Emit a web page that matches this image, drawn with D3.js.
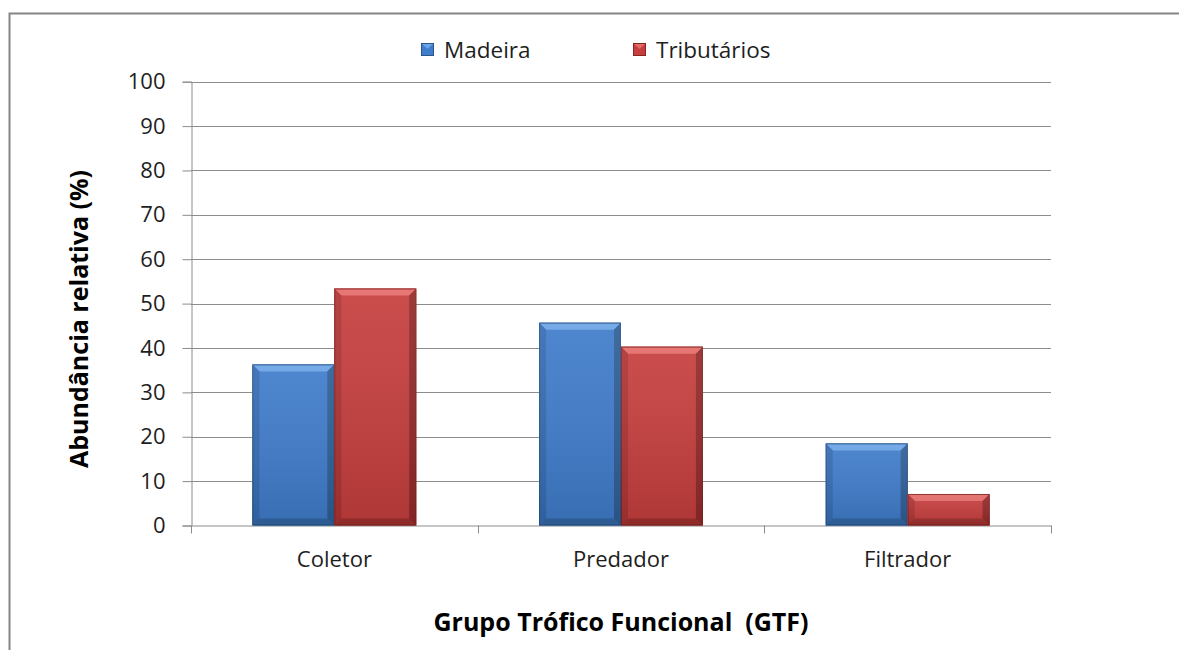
<!DOCTYPE html>
<html>
<head>
<meta charset="utf-8">
<script src="https://cdn.jsdelivr.net/npm/d3@7"></script>
<style>
  body { margin: 0; background: #fff; }
  svg text { font-family: "Open Sans", "Noto Sans", sans-serif; fill: #1e1e1e; white-space: pre; }
</style>
</head>
<body>
<svg id="chart" width="1179" height="650"></svg>
<script>
const categories = ["Coletor", "Predador", "Filtrador"];
const seriesNames = ["Madeira", "Tributários"];
const madeira = [36.3, 45.7, 18.5];
const tributarios = [53.4, 40.3, 7.1];
const yTicks = [0, 10, 20, 30, 40, 50, 60, 70, 80, 90, 100];

const colors = {
  Madeira: { main: "#3f7ccb", light: "#6aa3e6", dark: "#2a5689", side: "#356cb3" },
  "Tributários": { main: "#c63e3d", light: "#e56b68", dark: "#852624", side: "#ad3433" }
};

const svg = d3.select("#chart");

// chart frame
svg.append("rect")
  .attr("x", 9.5).attr("y", 13.5)
  .attr("width", 1200).attr("height", 700)
  .attr("fill", "#fff")
  .attr("stroke", "#868686")
  .attr("stroke-width", 2);

const plotLeft = 191, plotRight = 1051, plotTop = 81.7, plotBottom = 525.5;

const x = d3.scaleBand().domain(categories).range([plotLeft, plotRight]);
const y = d3.scaleLinear().domain([0, 100]).range([plotBottom, plotTop]);

// gap width 150% -> each category = 2 bars + 1.5 bar gap
const barW = x.bandwidth() / 3.5;

// gridlines
svg.append("g")
  .selectAll("line")
  .data(yTicks.filter(d => d > 0))
  .join("line")
  .attr("x1", plotLeft).attr("x2", plotRight)
  .attr("y1", d => Math.round(y(d)) + 0.5)
  .attr("y2", d => Math.round(y(d)) + 0.5)
  .attr("stroke", "#8c8c8c")
  .attr("stroke-width", 1);

// y axis
const yAxis = svg.append("g")
  .attr("transform", `translate(${plotLeft + 0.5},0)`)
  .call(d3.axisLeft(y).tickValues(yTicks).tickSize(9).tickPadding(17));
yAxis.select(".domain").attr("stroke", "#8c8c8c");
yAxis.selectAll(".tick line").attr("stroke", "#8c8c8c");
yAxis.selectAll("text")
  .style("font-size", "22px")
  .style("fill", "#1e1e1e");

// x axis
const xAxis = svg.append("g")
  .attr("transform", `translate(0,${plotBottom})`)
  .call(d3.axisBottom(x).tickSize(0).tickPadding(26));
xAxis.select(".domain").attr("stroke", "#8c8c8c");
xAxis.selectAll("text").style("font-size", "22px").style("fill", "#1e1e1e");
svg.append("g")
  .selectAll("line")
  .data(categories.map(c => x(c)).concat([plotRight]))
  .join("line")
  .attr("x1", d => Math.round(d) + 0.5).attr("x2", d => Math.round(d) + 0.5)
  .attr("y1", plotBottom).attr("y2", plotBottom + 8)
  .attr("stroke", "#8c8c8c");

// beveled bars
const bev = 7;
function drawBar(g, x0, w, yTop, c) {
  const y0 = plotBottom;
  const h = y0 - yTop;
  const b = Math.min(bev, h / 2, w / 2);
  g.append("rect").attr("x", x0).attr("y", yTop).attr("width", w).attr("height", h)
    .attr("fill", c.main);
  // top bevel
  g.append("polygon")
    .attr("points", [[x0, yTop], [x0 + w, yTop], [x0 + w - b, yTop + b], [x0 + b, yTop + b]].join(" "))
    .attr("fill", c.light);
  // left bevel
  g.append("polygon")
    .attr("points", [[x0, yTop], [x0 + b, yTop + b], [x0 + b, y0 - b], [x0, y0]].join(" "))
    .attr("fill", c.side);
  // right bevel
  g.append("polygon")
    .attr("points", [[x0 + w, yTop], [x0 + w, y0], [x0 + w - b, y0 - b], [x0 + w - b, yTop + b]].join(" "))
    .attr("fill", c.dark).attr("opacity", 0.8);
  // bottom bevel
  g.append("polygon")
    .attr("points", [[x0, y0], [x0 + w, y0], [x0 + w - b, y0 - b], [x0 + b, y0 - b]].join(" "))
    .attr("fill", c.dark).attr("opacity", 0.55);
  g.append("rect").attr("x", x0 + 0.5).attr("y", yTop + 0.5).attr("width", w - 1).attr("height", h - 1)
    .attr("fill", "none").attr("stroke", c.dark).attr("stroke-width", 1);
}

// gradient overlay for shading
const defs = svg.append("defs");
const grad = defs.append("linearGradient").attr("id", "shade")
  .attr("x1", 0).attr("y1", 0).attr("x2", 0).attr("y2", 1);
grad.append("stop").attr("offset", 0).attr("stop-color", "#fff").attr("stop-opacity", 0.08);
grad.append("stop").attr("offset", 1).attr("stop-color", "#000").attr("stop-opacity", 0.12);

const series = [madeira, tributarios];
const barsG = svg.append("g");
categories.forEach((cat, i) => {
  series.forEach((vals, s) => {
    const name = seriesNames[s];
    const x0 = x(cat) + barW * 0.75 + s * barW;
    const g = barsG.append("g");
    drawBar(g, x0, barW, y(vals[i]), colors[name]);
    g.append("rect").attr("x", x0).attr("y", y(vals[i]))
      .attr("width", barW).attr("height", plotBottom - y(vals[i]))
      .attr("fill", "url(#shade)");
  });
});

// legend
const legendX = [421, 633];
const legend = svg.append("g");
seriesNames.forEach((name, i) => {
  const c = colors[name];
  const lx = legendX[i];
  const ly = 43;
  legend.append("rect").attr("x", lx).attr("y", ly).attr("width", 13).attr("height", 13).attr("fill", c.main);
  legend.append("polygon")
    .attr("points", [[lx, ly], [lx + 13, ly], [lx + 6.5, ly + 6]].join(" "))
    .attr("fill", c.light);
  legend.append("rect").attr("x", lx + 0.5).attr("y", ly + 0.5).attr("width", 12).attr("height", 12)
    .attr("fill", "none").attr("stroke", c.dark);
  legend.append("text").attr("x", lx + 23).attr("y", ly + 15)
    .style("font-size", "22.5px").text(name);
});

// axis titles
svg.append("text")
  .attr("x", 621).attr("y", 631)
  .attr("text-anchor", "middle")
  .style("font-size", "25px").style("font-weight", "bold").style("fill", "#000")
  .text("Grupo Trófico Funcional  (GTF)");

svg.append("text")
  .attr("transform", "translate(88,319) rotate(-90)")
  .attr("text-anchor", "middle")
  .style("font-size", "25px").style("font-weight", "bold").style("fill", "#000")
  .text("Abundância relativa (%)");
</script>
</body>
</html>
